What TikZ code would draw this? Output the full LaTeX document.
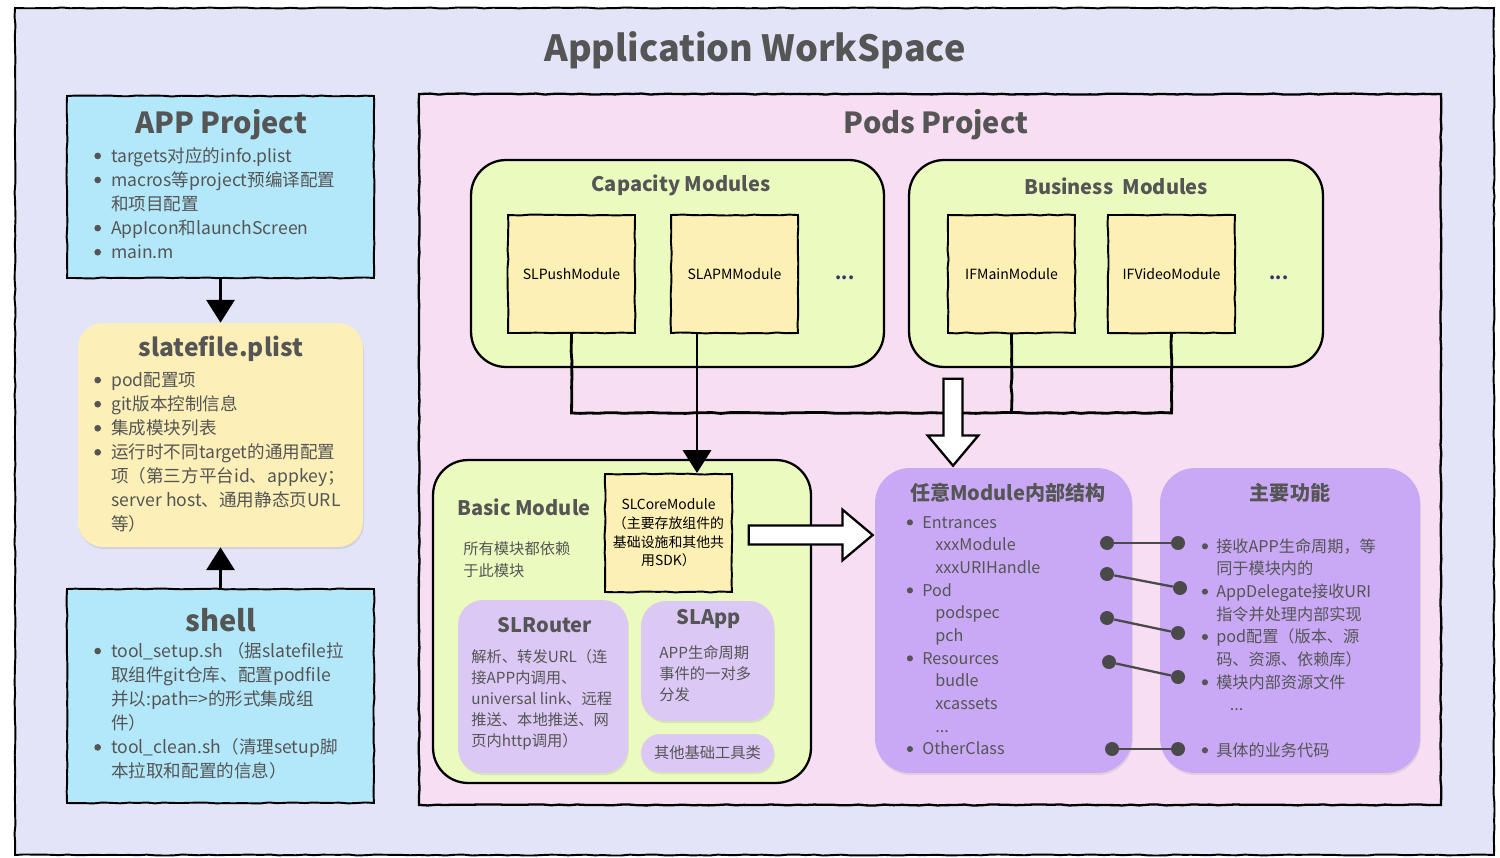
\documentclass[tikz,border=0pt]{standalone}
\usepackage{fontspec}
\setmainfont{Noto Sans CJK SC}
\usepackage{xcolor}
\usetikzlibrary{arrows.meta, positioning, shapes.arrows, shadows, decorations.pathmorphing}

\definecolor{wsbg}{HTML}{E4E4F8}
\definecolor{appcyan}{HTML}{B3E8FA}
\definecolor{plistyel}{HTML}{FCEFB7}
\definecolor{podpink}{HTML}{F8DEF2}
\definecolor{modgreen}{HTML}{EBFBBF}
\definecolor{modyel}{HTML}{FDF0B5}
\definecolor{lilac}{HTML}{DCC8F5}
\definecolor{purpbox}{HTML}{C9A9F5}
\definecolor{txtgray}{HTML}{555555}
\definecolor{dotgray}{HTML}{4A4A4A}
\definecolor{ellipsisblue}{HTML}{3C2C6E}

% bullet and hanging indent for the list texts
\newcommand{\bitem}[1][9.6pt]{\makebox[#1][l]{\raisebox{0.17em}{\tikz\fill[txtgray] (0,0) circle (0.19em);}}}
\newcommand{\bskip}[1][9.6pt]{\hspace*{#1}}

\begin{document}
\begin{tikzpicture}[x=0.02cm, y=-0.02cm,
  rough/.style={decorate, decoration={random steps, segment length=5pt, amplitude=0.3pt}},
  sqbox/.style={draw=black, line width=1.1pt, rough},
  softbox/.style={rounded corners=0.5cm, drop shadow={shadow xshift=0.5pt, shadow yshift=-1.2pt, opacity=0.18}},
  grpbox/.style={draw=black, line width=1.3pt, fill=modgreen, rounded corners=0.7cm},
  modbox/.style={sqbox, fill=modyel, minimum width=2.54cm, minimum height=2.36cm, font=\fontsize{8}{10}\selectfont, text=black},
  bigttl/.style={font=\fontsize{16.5}{19}\selectfont\bfseries, text=txtgray},
  ttl/.style={font=\fontsize{11.4}{13}\selectfont\bfseries, text=txtgray},
  body/.style={inner sep=0pt, anchor=north west, align=left, text=txtgray},
  bigbody/.style={body, font=\fontsize{10}{13.7}\selectfont},
  listbody/.style={body, font=\fontsize{9.2}{12.9}\selectfont},
  smallbody/.style={body, font=\fontsize{8.7}{11.9}\selectfont},
  wire/.style={line width=1.6pt},
  blackhead/.style={-{Triangle[width=16pt, length=13pt]}},
  hollow/.style={single arrow, draw=black, fill=white, line width=1.3pt, inner xsep=0pt, inner ysep=4.8pt,
    text height=0pt, text depth=0pt, single arrow head extend=9pt, single arrow tip angle=80},
  dotc/.style={circle, fill=dotgray, minimum size=0.28cm, inner sep=0pt},
  dotlink/.style={line width=1.3pt, draw=dotgray}
]
  \fill[white] (0,0) rectangle (1500,858);
  \useasboundingbox (0,0) rectangle (1500,858);
  \draw[fill=wsbg, line width=1.1pt, rough] (15,8) rectangle (1494,855);
  \node[font=\fontsize{20.5}{24}\selectfont\bfseries, text=txtgray] (title) at (755,50) {Application WorkSpace};

  % left column
  \node[sqbox, fill=appcyan, minimum width=6.14cm, minimum height=3.64cm] (app) at (220.5,187) {};
  \node[bigttl] (appttl) at (221,125) {APP Project};
  \node[bigbody] (apptxt) at (94,147) {\bitem targets对应的info.plist\\
    \bitem macros等project预编译配置\\ \bskip 和项目配置\\
    \bitem AppIcon和launchScreen\\ \bitem main.m};

  \node[softbox, fill=plistyel, minimum width=5.7cm, minimum height=4.48cm] (plist) at (220.5,435) {};
  \node[font=\fontsize{14}{16}\selectfont\bfseries, text=txtgray] (plistttl) at (221,349) {slatefile.plist};
  \node[bigbody] (plisttxt) at (94,372) {\bitem pod配置项\\ \bitem git版本控制信息\\ \bitem 集成模块列表\\
    \bitem 运行时不同target的通用配置\\ \bskip 项（第三方平台id、appkey；\\
    \bskip server host、通用静态页URL\\ \bskip 等）};

  \node[sqbox, fill=appcyan, minimum width=6.14cm, minimum height=4.28cm] (shell) at (220.5,696) {};
  \node[bigttl] (shellttl) at (221,620) {shell};
  \node[bigbody] (shelltxt) at (94,642) {\bitem tool\_setup.sh （据slatefile拉\\
    \bskip 取组件git仓库、配置podfile\\ \bskip 并以:path=>的形式集成组\\ \bskip 件）\\
    \bitem tool\_clean.sh（清理setup脚\\ \bskip 本拉取和配置的信息）};

  \draw[line width=1.7pt, blackhead] (app.south) -- (plist.north);
  \draw[line width=1.7pt, blackhead] (shell.north) -- (plist.south);

  % pods project
  \node[draw=black, line width=1.3pt, rough, fill=podpink, minimum width=20.44cm, minimum height=14.22cm] (pods) at (930,449.5) {};
  \node[bigttl] (podsttl) at (936,125) {Pods Project};

  \node[grpbox, minimum width=8.26cm, minimum height=4.14cm] (cap) at (677.5,263.5) {};
  \node[ttl] (capttl) at (681,185) {Capacity Modules};
  \node[modbox] (push) at (571.5,274) {SLPushModule};
  \node[modbox] (apm) at (734.5,274) {SLAPMModule};
  \node[font=\bfseries, text=ellipsisblue] (capmore) at (845,278) {...};

  \node[grpbox, minimum width=8.28cm, minimum height=4.14cm] (biz) at (1116,263.5) {};
  \node[ttl] (bizttl) at (1116,186) {Business~~Modules};
  \node[modbox] (main) at (1011.5,274) {IFMainModule};
  \node[modbox] (video) at (1171.5,274) {IFVideoModule};
  \node[font=\bfseries, text=ellipsisblue] (bizmore) at (1279,278) {...};

  \node[grpbox, minimum width=7.56cm, minimum height=6.46cm] (basic) at (622,621.5) {};
  \node[ttl] (basicttl) at (524,507) {Basic Module};
  \node[smallbody] (basictxt) at (463,541) {所有模块都依赖\\[0.6pt]于此模块};
  \node[modbox, align=center, font=\fontsize{7.9}{10.6}\selectfont] (core) at (668.5,533)
    {SLCoreModule\\（主要存放组件的\\基础设施和其他共\\用SDK）};

  \node[softbox, fill=lilac, minimum width=3.4cm, minimum height=3.46cm] (router) at (543,686.5) {};
  \node[ttl] (routerttl) at (545,625) {SLRouter};
  \node[smallbody] (routertxt) at (471,649) {解析、转发URL（连\\接APP内调用、\\universal link、远程\\
    推送、本地推送、网\\页内http调用）};

  \node[softbox, fill=lilac, minimum width=2.66cm, minimum height=2.4cm] (slapp) at (707.5,661) {};
  \node[ttl] (slappttl) at (709,619) {SLApp};
  \node[smallbody] (slapptxt) at (659,645) {APP生命周期\\事件的一对多\\分发};

  \node[softbox, rounded corners=0.38cm, fill=lilac, minimum width=2.66cm, minimum height=0.76cm,
    font=\fontsize{8.7}{10}\selectfont, text=txtgray] (tools) at (707.5,753) {其他基础工具类};

  % dependency wires
  \draw[wire, rough] (push.south) -- ++(0,79) coordinate (busjoin) -| (video.south);
  \draw[wire, rough] (main.south) -- (main.south |- busjoin);
  \draw[wire, blackhead] ([xshift=-0.75cm]apm.south) coordinate (apmout) -- (apmout |- core.north);

  \node[hollow, rotate=-90, minimum height=1.74cm] (sinkarrow) at (953,416.5) {};
  \node[hollow, minimum height=2.48cm] (exportarrow) at (805,535) {};

  % module structure and functions
  \node[softbox, rounded corners=0.7cm, fill=purpbox, minimum width=5.14cm, minimum height=6.1cm] (inner) at (1003.5,620.5) {};
  \node[ttl] (innerttl) at (1008,493) {任意Module内部结构};
  \node[listbody] (innertxt) at (906.5,516) {\bitem[8.8pt]Entrances\\ \bskip[16.2pt]xxxModule\\ \bskip[16.2pt]xxxURIHandle\\
    \bitem[8.8pt]Pod\\ \bskip[16.2pt]podspec\\ \bskip[16.2pt]pch\\
    \bitem[8.8pt]Resources\\ \bskip[16.2pt]budle\\ \bskip[16.2pt]xcassets\\ \bskip[16.2pt]...\\
    \bitem[8.8pt]OtherClass};

  \node[softbox, rounded corners=0.7cm, fill=purpbox, minimum width=5.2cm, minimum height=6.1cm] (func) at (1290,620.5) {};
  \node[ttl] (functtl) at (1290,493) {主要功能};
  \node[listbody] (functxt) at (1201.5,538) {\bitem[8.2pt]接收APP生命周期，等\\ \bskip[8.2pt]同于模块内的\\
    \bitem[8.2pt]AppDelegate接收URI\\ \bskip[8.2pt]指令并处理内部实现\\
    \bitem[8.2pt]pod配置（版本、源\\ \bskip[8.2pt]码、资源、依赖库）\\
    \bitem[8.2pt]模块内部资源文件\\ \bskip[16pt]...\\ \mbox{}\\
    \bitem[8.2pt]具体的业务代码};

  \node[dotc] (l1) at (1107,543) {};
  \node[dotc] (l2) at (1107,574) {};
  \node[dotc] (l3) at (1107,618) {};
  \node[dotc] (l4) at (1109,662) {};
  \node[dotc] (l5) at (1112,749) {};
  \node[dotc] (r1) at (1178,543) {};
  \node[dotc] (r2) at (1180,588) {};
  \node[dotc] (r3) at (1178,633) {};
  \node[dotc] (r4) at (1178,677) {};
  \node[dotc] (r5) at (1178,749) {};
  \draw[dotlink] (l1) -- (r1);
  \draw[dotlink] (l2) -- (r2);
  \draw[dotlink] (l3) -- (r3);
  \draw[dotlink] (l4) -- (r4);
  \draw[dotlink] (l5) -- (r5);
\end{tikzpicture}
\end{document}
